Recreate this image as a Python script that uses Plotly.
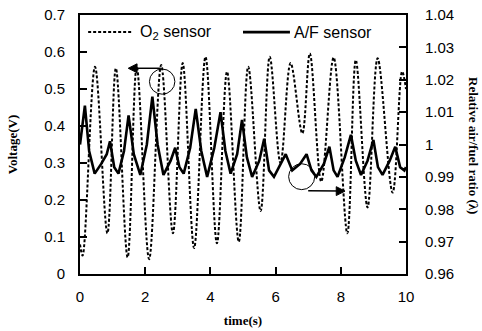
import plotly.graph_objects as go

# O2 sensor (left axis, Voltage V)
o2_t = [0.0, 0.08, 0.46, 0.84, 1.10, 1.46, 1.74, 2.12, 2.49, 2.85, 3.15, 3.50, 3.85, 4.20,
        4.51, 4.87, 5.16, 5.54, 5.82, 6.15, 6.46, 6.82, 7.05, 7.40, 7.78, 8.20, 8.46, 8.82,
        9.13, 9.59, 9.88, 10.0]
o2_v = [0.08, 0.05, 0.56, 0.11, 0.556, 0.045, 0.56, 0.04, 0.565, 0.11, 0.57, 0.07, 0.587, 0.083,
        0.547, 0.087, 0.56, 0.17, 0.587, 0.30, 0.57, 0.38, 0.596, 0.25, 0.585, 0.11, 0.578, 0.18,
        0.583, 0.22, 0.547, 0.50]

# A/F sensor (right axis, relative air/fuel ratio)
af_t = [0.0, 0.15, 0.28, 0.45, 0.65, 0.82, 0.92, 1.05, 1.18, 1.35, 1.49, 1.65, 1.85, 2.05, 2.22,
        2.38, 2.56, 2.78, 2.92, 3.05, 3.18, 3.38, 3.55, 3.72, 3.90, 4.12, 4.31, 4.46, 4.62, 4.82,
        4.97, 5.12, 5.28, 5.50, 5.65, 5.80, 5.95, 6.15, 6.31, 6.51, 6.75, 6.95, 7.10, 7.25, 7.48,
        7.65, 7.78, 7.90, 8.12, 8.31, 8.46, 8.62, 8.82, 9.00, 9.14, 9.28, 9.50, 9.67, 9.82, 9.95,
        10.0]
af_l = [1.000, 1.012, 0.998, 0.991, 0.994, 0.997, 1.001, 0.993, 0.991, 0.998, 1.009, 0.997,
        0.9906, 1.000, 1.0148, 1.000, 0.9906, 0.995, 0.999, 0.993, 0.991, 0.999, 1.011, 0.998,
        0.990, 0.999, 1.010, 0.998, 0.991, 0.997, 1.0076, 0.996, 0.990, 0.995, 1.0018, 0.992,
        0.990, 0.994, 0.997, 0.992, 0.994, 0.997, 0.992, 0.990, 0.994, 0.9993, 0.992, 0.990,
        0.996, 1.003, 0.995, 0.9906, 0.995, 1.0014, 0.993, 0.9906, 0.995, 0.9993, 0.993, 0.992,
        0.993]

x_ticks = [0, 2, 4, 6, 8, 10]
left_ticks = [0, 0.1, 0.2, 0.3, 0.4, 0.5, 0.6, 0.7]
left_labels = ["0", "0.1", "0.2", "0.3", "0.4", "0.5", "0.6", "0.7"]
right_ticks = [0.96, 0.97, 0.98, 0.99, 1.0, 1.01, 1.02, 1.03, 1.04]
right_labels = ["0.96", "0.97", "0.98", "0.99", "1", "1.01", "1.02", "1.03", "1.04"]

tickfont = dict(family="Liberation Sans, Arial", size=15, color="black")
titlefont = dict(family="Liberation Serif, Times New Roman", size=13, color="black")

fig = go.Figure()
fig.add_trace(go.Scatter(x=o2_t, y=o2_v, mode="lines",
                         line=dict(color="black", width=2, dash="3px,2px", shape="spline"),
                         showlegend=False))
fig.add_trace(go.Scatter(x=af_t, y=af_l, mode="lines", yaxis="y2",
                         line=dict(color="black", width=2.6), showlegend=False))

fig.update_layout(
    width=482, height=331,
    margin=dict(l=80, r=76, t=15, b=57),
    paper_bgcolor="white", plot_bgcolor="white",
    xaxis=dict(range=[0, 10], tickvals=x_ticks, ticks="inside", ticklen=7, tickwidth=1.5, tickcolor="black",
               showline=True, linewidth=2, linecolor="black", mirror=True, showgrid=False, zeroline=False,
               tickfont=tickfont, ticklabelstandoff=8, automargin=False,
               title=dict(text="<b>time(s)</b>", font=titlefont, standoff=12)),
    yaxis=dict(range=[0, 0.7], tickvals=left_ticks, ticktext=left_labels,
               ticks="inside", ticklen=7, tickwidth=1.5, tickcolor="black",
               showline=True, linewidth=2, linecolor="black", showgrid=False, zeroline=False,
               tickfont=tickfont, ticklabelstandoff=10, automargin=False,
               title=dict(text="<b>Voltage(V)</b>", font=titlefont, standoff=24)),
    yaxis2=dict(range=[0.96, 1.04], tickvals=right_ticks, ticktext=right_labels,
                overlaying="y", side="right", ticks="inside", ticklen=7, tickwidth=1.5, tickcolor="black",
                showline=True, linewidth=2, linecolor="black", showgrid=False, zeroline=False,
                tickfont=tickfont, ticklabelstandoff=14, automargin=False),
)

# legend drawn manually
fig.add_shape(type="line", xref="paper", yref="paper", x0=0.025, x1=0.16, y0=0.934, y1=0.934,
              line=dict(color="black", width=2, dash="3px,2px"))
fig.add_annotation(xref="paper", yref="paper", x=0.178, y=0.934, xanchor="left", yanchor="middle",
                   text="O<sub>2</sub> sensor", showarrow=False,
                   font=dict(family="Liberation Sans, Arial", size=16, color="black"))
fig.add_shape(type="line", xref="paper", yref="paper", x0=0.50, x1=0.644, y0=0.934, y1=0.934,
              line=dict(color="black", width=2.6))
fig.add_annotation(xref="paper", yref="paper", x=0.65, y=0.934, xanchor="left", yanchor="middle",
                   text="A/F sensor", showarrow=False,
                   font=dict(family="Liberation Sans, Arial", size=16, color="black"))

# circles and arrows (drawn as shapes)
fig.add_shape(type="circle", xref="x", yref="y", x0=2.13, x1=2.91, y0=0.486, y1=0.554,
              line=dict(color="black", width=1))
fig.add_shape(type="line", xref="x", yref="y", x0=2.48, x1=1.60, y0=0.556, y1=0.556,
              line=dict(color="black", width=1.5))
fig.add_shape(type="path", xref="x", yref="y", path="M 1.48 0.556 L 1.75 0.568 L 1.75 0.544 Z",
              fillcolor="black", line=dict(color="black", width=1))
fig.add_shape(type="circle", xref="x", yref="y", x0=6.40, x1=7.20, y0=0.228, y1=0.298,
              line=dict(color="black", width=1))
fig.add_shape(type="line", xref="x", yref="y", x0=7.0, x1=8.0, y0=0.225, y1=0.224,
              line=dict(color="black", width=1.5))
fig.add_shape(type="path", xref="x", yref="y", path="M 8.13 0.224 L 7.86 0.236 L 7.86 0.212 Z",
              fillcolor="black", line=dict(color="black", width=1))

# right axis title (reads top-to-bottom as in the reference)
fig.add_annotation(xref="paper", yref="paper", x=(474 - 80) / 326, y=(274 - 146) / 259,
                   text="<b>Relative air/fuel ratio (λ)</b>",
                   textangle=90, showarrow=False, font=titlefont, xanchor="center", yanchor="middle")

fig.write_html("out.html")
